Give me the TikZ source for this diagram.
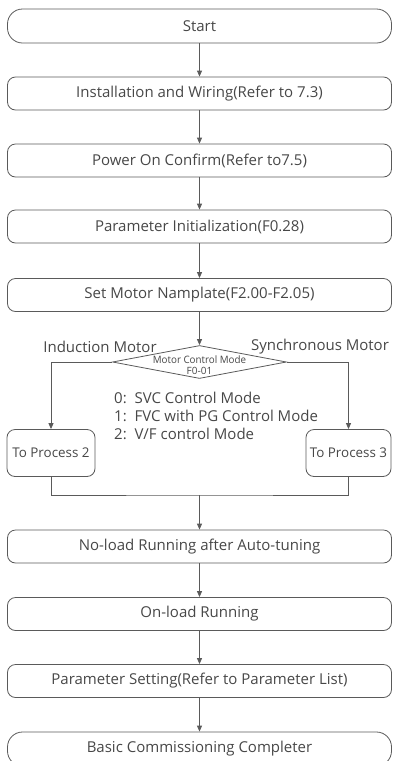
\documentclass[tikz,border=0pt]{standalone}
\usepackage{fontspec}
\setmainfont{Open Sans}
\usetikzlibrary{shapes.geometric,arrows.meta}
\definecolor{lncol}{HTML}{5A5A5A}
\definecolor{tx}{HTML}{474747}
\begin{document}
\begin{tikzpicture}[x=1pt,y=-1pt,
  box/.style={draw=lncol, line width=0.8pt, rounded corners=8pt, minimum width=384pt, minimum height=33pt, inner sep=0pt, text=tx, font=\fontsize{15}{17}\selectfont},
  term/.style={box, rounded corners=15pt, minimum height=34pt},
  small/.style={box, font=\fontsize{13.4}{16}\selectfont, minimum height=47pt},
  arr/.style={draw=lncol, line width=0.8pt, -{Triangle[width=5pt,length=6pt]}},
  plain/.style={draw=lncol, line width=0.8pt},
  lab/.style={text=tx, inner sep=0pt, font=\fontsize{15}{18}\selectfont}]
\useasboundingbox (0,0) rectangle (392,761);
\clip (0,0) rectangle (392,761);
\node[term] (start) at (199.5,26) {Start};
\node[box] (inst) at (199.5,93.5) {Installation and Wiring(Refer to 7.3)};
\node[box] (pow) at (199.5,160.5) {Power On Confirm(Refer to7.5)};
\node[box] (init) at (199.5,226.5) {Parameter Initialization(F0.28)};
\node[box] (nam) at (199.5,295) {Set Motor Namplate(F2.00-F2.05)};
\node[diamond, draw=lncol, line width=0.8pt, minimum width=174pt, minimum height=33pt, inner sep=0pt] (dia) at (199.5,362) {};
\node[text=tx, align=center, inner sep=0pt, font=\fontsize{10}{11.5}\selectfont] (dtext) at (199.5,365) {\scalebox{0.96}[1]{\fontsize{10.2}{11.5}\selectfont Motor Control Mode}\\F0-01};
\node[lab] (ind) at (100,347) {Induction Motor};
\node[lab] (syn) at (320,347) {Synchronous Motor};
\node[lab, anchor=north west, align=left] (opts) at (114,391.5) {0:\ \ SVC Control Mode\\1:\ \ FVC with PG Control Mode\\2:\ \ V/F control Mode};
\node[small, minimum width=88pt] (p2) at (51,453) {To Process 2};
\node[small, minimum width=85pt] (p3) at (348.5,453) {To Process 3};
\coordinate (m) at (199.5,495);
\node[box] (nl) at (199.5,546.5) {No-load Running after Auto-tuning};
\node[box] (onl) at (199.5,614) {On-load Running};
\node[box] (par) at (199.5,681) {Parameter Setting(Refer to Parameter List)};
\node[term] (bas) at (199.5,749) {Basic Commissioning Completer};
\draw[arr] (start) -- (inst);
\draw[arr] (inst) -- (pow);
\draw[arr] (pow) -- (init);
\draw[arr] (init) -- (nam);
\draw[arr] (nam) -- (dia);
\draw[arr] (dia.west) -| (p2.north);
\draw[arr] (dia.east) -| (p3.north);
\draw[plain] (p2.south) |- (m) -| (p3.south);
\draw[arr] (m) -- (nl);
\draw[arr] (nl) -- (onl);
\draw[arr] (onl) -- (par);
\draw[arr] (par) -- (bas);
\end{tikzpicture}
\end{document}
